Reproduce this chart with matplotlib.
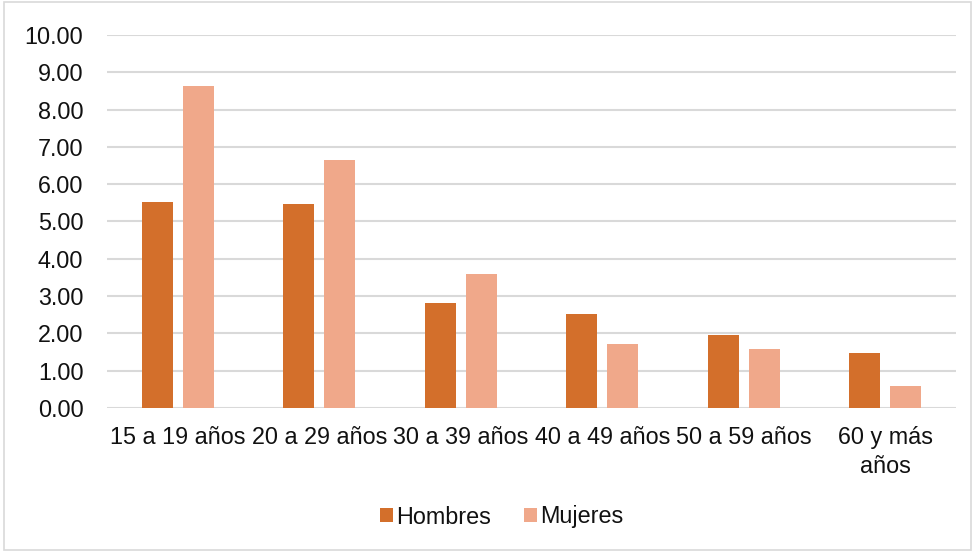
import matplotlib
matplotlib.use("Agg")
import matplotlib.pyplot as plt
import numpy as np

categories = ["15 a 19 años", "20 a 29 años", "30 a 39 años", "40 a 49 años", "50 a 59 años", "60 y más\naños"]
hombres = [5.51, 5.48, 2.82, 2.53, 1.95, 1.47]
mujeres = [8.64, 6.64, 3.60, 1.72, 1.59, 0.58]
yticks = [0, 1, 2, 3, 4, 5, 6, 7, 8, 9, 10]

plt.rcParams['font.family'] = ['Liberation Sans', 'DejaVu Sans']
FS = 16.8

fig = plt.figure(figsize=(9.75, 5.52), dpi=100)
ax = fig.add_axes([107/975, 1-408/552, (956-107)/975, (408-35)/552])

x = np.arange(len(categories))
w = 0.22
off = 0.145
ax.bar(x - off, hombres, w, color="#D36F2B", label="Hombres", zorder=3)
ax.bar(x + off, mujeres, w, color="#F0A88A", label="Mujeres", zorder=3)

ax.set_xlim(-0.5, len(categories) - 0.5)
ax.set_ylim(0, 10)
ax.set_yticks(yticks)
ax.set_yticklabels([f"{v:.2f}" for v in yticks], fontsize=FS, color="#111111")
ax.set_xticks(x)
ax.set_xticklabels(categories, fontsize=FS, color="#111111", linespacing=1.35, va="top")
ax.tick_params(axis="both", length=0)
ax.tick_params(axis="x", pad=13)
ax.tick_params(axis="y", pad=17)
ax.grid(axis="y", color="#d9d9d9", linewidth=1.5, zorder=0)
for s in ax.spines.values():
    s.set_visible(False)

leg = fig.legend(loc="center", bbox_to_anchor=(502/975, 1-517/552), ncol=2, frameon=False,
                 fontsize=FS, handlelength=0.55, handleheight=0.55, handletextpad=0.15,
                 columnspacing=1.4)
for t in leg.get_texts():
    t.set_color("#111111")

border = plt.Rectangle((0.004, 0.004), 0.992, 0.992, transform=fig.transFigure,
                       fill=False, edgecolor="#d9d9d9", linewidth=1.2)
fig.patches.append(border)

fig.savefig("out.png", dpi=100)
